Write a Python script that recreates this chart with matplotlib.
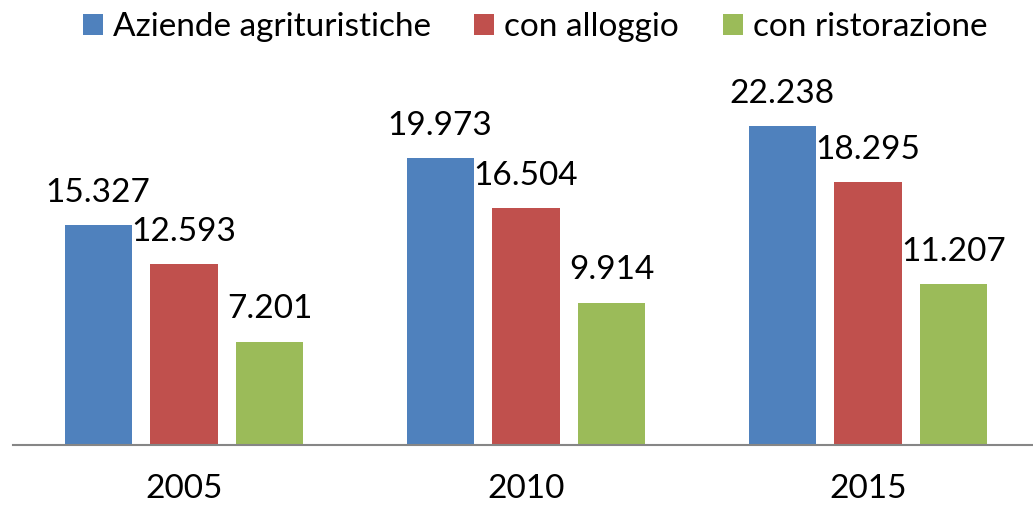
import matplotlib.pyplot as plt
import numpy as np

# dati
anni = ["2005", "2010", "2015"]
serie = ["Aziende agrituristiche", "con alloggio", "con ristorazione"]
aziende = [15327, 19973, 22238]
alloggio = [12593, 16504, 18295]
ristorazione = [7201, 9914, 11207]
etichette = [
    ["15.327", "19.973", "22.238"],
    ["12.593", "16.504", "18.295"],
    ["7.201", "9.914", "11.207"],
]
colori = ["#4F81BD", "#C0504D", "#9BBB59"]

plt.rcParams['font.family'] = ['Lato', 'DejaVu Sans']

fig = plt.figure(figsize=(10.33, 5.09), dpi=100)
ax = fig.add_axes([13 / 1033, 64 / 509, 1026 / 1033, 385 / 509])

x = np.arange(len(anni))
larghezza = 0.196
passo = 0.251
valori = [aziende, alloggio, ristorazione]
for i, (v, c, nome) in enumerate(zip(valori, colori, serie)):
    pos = x + (i - 1) * passo
    ax.bar(pos, v, width=larghezza, color=c, label=nome)
    for px, py, t in zip(pos, v, etichette[i]):
        ax.text(px, py + 1200, t, ha='center', va='bottom', fontsize=24)

ax.set_xlim(-0.5, 2.5)
ax.set_ylim(0, 385 / (220 / 15327))
ax.set_xticks(x)
ax.set_xticklabels(anni, fontsize=24)
ax.tick_params(axis='x', length=0, pad=21)
ax.set_yticks([])
for s in ['top', 'right', 'left']:
    ax.spines[s].set_visible(False)
ax.spines['bottom'].set_color('#868686')
ax.spines['bottom'].set_linewidth(1.5)

fig.legend(loc='upper center', bbox_to_anchor=(0.518, 1.035), ncol=3, frameon=False,
           fontsize=24, handlelength=0.6, handleheight=0.6, handletextpad=0.3,
           columnspacing=1.3)

fig.savefig("out.png", dpi=100)
